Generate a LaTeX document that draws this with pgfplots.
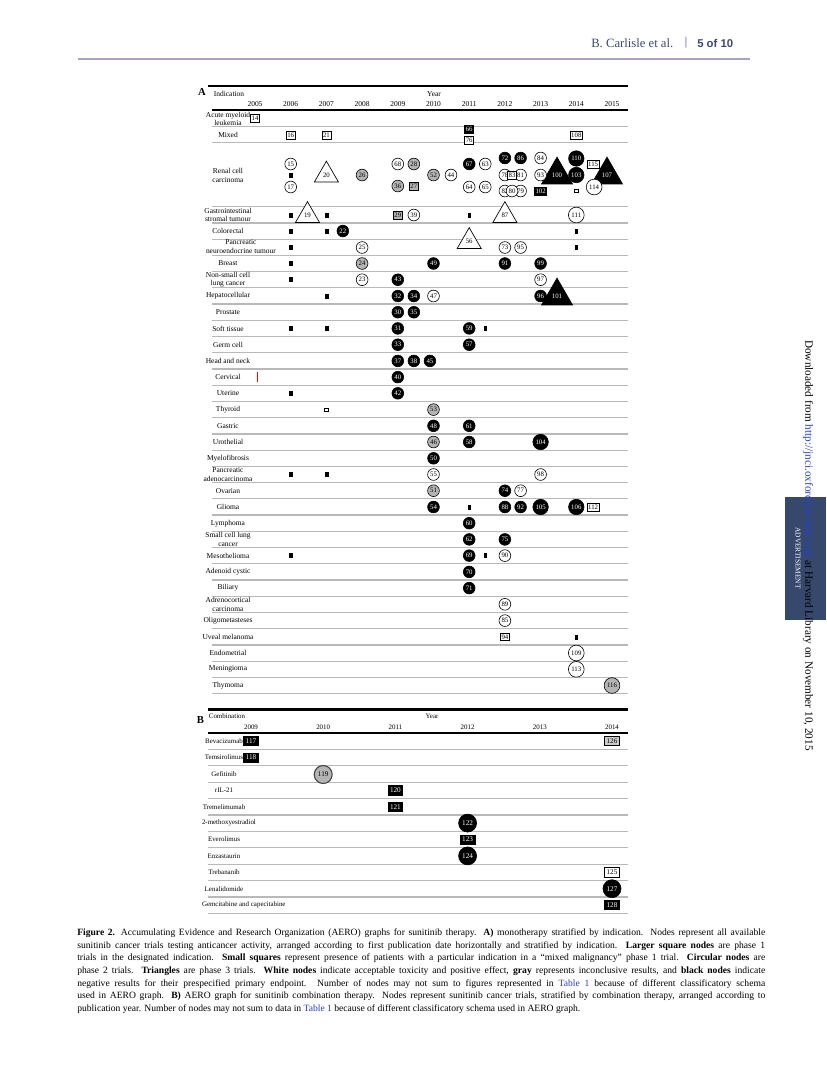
\documentclass[border=0pt]{standalone}
\usepackage{fontspec}
\setmainfont{Liberation Serif}
\newfontfamily\hdrsans{Liberation Sans}
\usepackage{pgfplots}
\pgfplotsset{compat=1.18}

\definecolor{sepgray}{HTML}{B9B9B9}
\definecolor{nodegray}{HTML}{B4B4B4}
\definecolor{hdrblue}{HTML}{3B4A72}
\definecolor{hdrrule}{HTML}{A2A6C4}
\definecolor{linkblue}{HTML}{2440D0}
\definecolor{adbox}{HTML}{36496C}

\newcommand\nf{\fontsize{5.1}{5.5}\selectfont}
\newcommand\nfb{\fontsize{5.4}{6}\selectfont}

\pgfplotsset{
  lab/.style 2 args={nodes near coords, point meta=explicit symbolic,
    every node near coord/.append style={anchor=center, inner sep=0pt, font=#2, text=#1}},
  circ/.style n args={4}{only marks, mark=*, mark size=#2,
    mark options={draw=black, fill=#1, line width=0.45pt}, lab={#3}{#4}},
  tri/.style n args={3}{only marks, mark=triangle*, mark size=#2,
    mark options={draw=black, fill=#1, line width=0.5pt}, lab={#3}{\nf}},
  bx/.style n args={4}{draw=none, nodes near coords, point meta=explicit symbolic,
    every node near coord/.append style={anchor=center, rectangle, draw=black,
      fill=#1, text=#2, line width=0.45pt, inner xsep=0.8pt, inner ysep=0pt,
      minimum height=#3, font=#4}},
  sq/.style={only marks, mark=square*, mark size=1.5pt,
    mark options={fill=black, draw=none, xscale=0.7}},
  hsq/.style={only marks, mark=square, mark size=1.3pt,
    mark options={draw=black, line width=0.5pt}},
  panel/.style={scale only axis, clip=false, y dir=reverse,
    axis line style={draw=none}, major tick length=0pt, minor tick length=0pt,
    yminorgrids=true, minor grid style={draw=sepgray, line width=0.9pt},
    xticklabel pos=right,
    xticklabel style={anchor=south, inner sep=0pt, yshift=2.3pt},
    yticklabel style={anchor=center, xshift=12pt, align=center, inner sep=0pt}},
}

\begin{document}
\begin{tikzpicture}
\fill[white] (0,0) rectangle (619.5pt,-814.5pt);

% ---------------- panel A: monotherapy by indication
\begin{axis}[panel,
  at={(315pt,-303.75pt)}, anchor=center,
  width=312pt, height=442.5pt,
  xmin=2003.7955, xmax=2015.4482, ymin=110, ymax=700,
  xtick={2005,2006,...,2015},
  xticklabels={2005,2006,2007,2008,2009,2010,2011,2012,2013,2014,2015},
  xticklabel style={font=\fontsize{5.6}{6}\selectfont},
  yticklabel style={font=\fontsize{5.6}{6.4}\selectfont},
  ytick={119,135,175.4,214.8,231.0,247.3,263.5,279.7,296.0,312.2,328.4,344.7,360.9,
    377.1,393.3,409.6,425.8,442.0,458.3,474.5,490.7,507.0,523.2,539.4,555.6,571.9,
    588.1,604.3,620.6,636.8,653.0,669.3,685.5},
  yticklabels={{Acute myeloid\\leukemia},Mixed,{Renal cell\\carcinoma},
    {Gastrointestinal\\stromal tumour},Colorectal,
    {\makebox[33pt][l]{\begin{tabular}{@{}c@{}}Pancreatic\\neuroendocrine tumour\end{tabular}}},
    Breast,{Non-small cell\\lung cancer},Hepatocellular,Prostate,Soft tissue,Germ cell,
    Head and neck,Cervical,Uterine,Thyroid,Gastric,Urothelial,Myelofibrosis,
    {Pancreatic\\adenocarcinoma},Ovarian,Glioma,Lymphoma,{Small cell lung\\cancer},
    Mesothelioma,Adenoid cystic,Biliary,{Adrenocortical\\carcinoma},Oligometasteses,
    Uveal melanoma,Endometrial,Meningioma,Thymoma},
  minor ytick={126.7,142.7,206.7,222.93,239.16,255.39,271.62,287.85,304.08,320.31,
    336.54,352.77,369.0,385.23,401.46,417.69,433.92,450.15,466.38,482.61,498.84,
    515.07,531.3,547.53,563.76,579.99,596.22,612.45,628.68,644.91,661.14,677.37,693.6},
]
% small squares (mixed malignancy phase 1)
\addplot[sq] table {
x y
2006 175
2006 214.8
2007 214.8
2011 214.8
2006 231.0
2007 231.0
2014 231.0
2006 247.3
2014 247.3
2006 263.5
2006 279.7
2007 296.0
2006 328.4
2007 328.4
2011.45 328.4
2006 393.3
2006 474.5
2007 474.5
2011 507.0
2006 555.6
2011.45 555.6
2014 636.8
};
\addplot[hsq] table {
x y
2014 191
2007 409.6
};
\addplot[red, only marks, mark=|, mark size=3.8pt, mark options={draw=red, line width=0.6pt}]
  coordinates {(2005.08,377.1)};
% triangles
\addplot[tri={white}{10.4pt}{black}] table[meta=l] {
x y l
2007 175 20
2006.47 215.5 19
2012 215.5 87
2011 241.5 56
};
\addplot[tri={black}{13.4pt}{white}] table[meta=l] {
x y l
2013.46 175 100
2014.86 175 107
2013.46 296 101
};
% circles
\addplot[circ={white}{4.4pt}{black}{\nf}] table[meta=l] {
x y l
2006 164 15
2006 187 17
2008 247.5 25
2008 279.7 23
2009 164 68
2009.45 215 39
2010.49 175 44
2010 296 47
2010 474.5 55
2011.45 164 63
2011 187 64
2011.45 187 65
2012 175 78
2012.44 175 81
2012 191 82
2012.44 191 79
2012.2 191 80
2012 247.5 73
2012.44 247.5 95
2012.44 490.7 77
2012 555.6 90
2012 604.3 89
2012 620.6 85
2013 158 84
2013 175 93
2013 279.7 97
2013 474.5 98
};
\addplot[circ={nodegray}{4.4pt}{black}{\nf}] table[meta=l] {
x y l
2008 175 26
2009.45 164 28
2009 186 36
2010 175 52
2008 263.5 24
2010 409.6 53
2010 442.0 46
2010 490.7 51
};
\addplot[circ={black}{4.4pt}{white}{\nf}] table[meta=l] {
x y l
2011 164 67
2012 158 72
2012.44 158 86
2007.46 231.0 22
2010 263.5 49
2012 263.5 91
2013 263.5 99
2009 279.7 43
2009 296.0 32
2009.45 296.0 34
2013 296.0 96
2009 312.2 30
2009.45 312.2 35
2009 328.4 31
2011 328.4 59
2009 344.7 33
2011 344.7 57
2009 360.9 37
2009.45 360.9 38
2009.9 360.9 45
2009 377.1 40
2009 393.3 42
2010 425.8 48
2011 425.8 61
2011 442.0 58
2010 458.3 50
2012 490.7 74
2010 507.0 54
2012 507.0 88
2012.44 507.0 92
2011 523.2 60
2011 539.4 62
2012 539.4 75
2011 555.6 69
2011 571.9 70
2011 588.1 71
};
\addplot[circ={black}{5.8pt}{white}{\nf}] table[meta=l] {
x y l
2014 158.5 110
2014 175 103
2013 442.0 104
2013 507.0 105
2014 507.0 106
};
\addplot[circ={white}{5.9pt}{black}{\nf}] table[meta=l] {
x y l
2014.5 187 114
2014 215 111
2014 653.0 109
2014 669.3 113
};
\addplot[circ={nodegray}{5.9pt}{black}{\nf}] table[meta=l] {
x y l
2015 685.5 116
};
% boxes (phase 1)
\addplot[bx={white}{black}{5.8pt}{\nf}] table[meta=l] {
x y l
2005 118.3 14
2006 135 16
2007 135 21
2011 140 76
2014 135 108
2012.2 175 83
2014.47 164 115
2014.47 507.0 112
2012 636.8 94
};
\addplot[bx={black}{white}{5.8pt}{\nf}] table[meta=l] {
x y l
2011 129.5 66
2013 191 102
};
\addplot[bx={nodegray}{black}{5.8pt}{\nf}] table[meta=l] {
x y l
2009.45 186 27
2009 215 29
};
\end{axis}

% ---------------- panel B: combinations
\begin{axis}[panel,
  at={(313.5pt,-618pt)}, anchor=center,
  width=315pt, height=136.5pt,
  xmin=2008.4044, xmax=2014.2216, ymin=733, ymax=915,
  xtick={2009,2010,...,2014},
  xticklabels={2009,2010,2011,2012,2013,2014},
  xticklabel style={font=\fontsize{5.2}{6}\selectfont},
  yticklabel style={font=\fontsize{5.2}{6}\selectfont},
  ytick={741.1,757.5,773.9,790.3,806.7,823.1,839.5,855.9,872.3,888.7,905.1},
  yticklabels={Bevacizumab,Temsirolimus,Gefitinib,rIL-21,Tremelimumab,
    \makebox[33pt][l]{2-methoxyestradiol},Everolimus,Enzastaurin,Trebananib,
    Lenalidomide,\makebox[33pt][l]{Gemcitabine and capecitabine}},
  minor ytick={749.3,765.7,782.1,798.5,814.9,831.3,847.7,864.1,880.5,896.9,913.3},
]
\addplot[bx={black}{white}{7pt}{\nfb}, every node near coord/.append style={minimum width=11pt}]
  table[meta=l] {
x y l
2009 741.1 117
2009 757.5 118
2011 790.3 120
2011 806.7 121
2012 839.5 123
2014 905.1 128
};
\addplot[bx={nodegray!70}{black}{7pt}{\nfb}, every node near coord/.append style={minimum width=11pt, line width=0.8pt}]
  table[meta=l] {
x y l
2014 741.1 126
};
\addplot[bx={white}{black}{7pt}{\nfb}, every node near coord/.append style={minimum width=11pt, line width=0.7pt}]
  table[meta=l] {
x y l
2014 872.3 125
};
\addplot[only marks, mark=*, mark size=6.75pt,
  mark options={draw=black!75, fill=nodegray, line width=0.8pt}, lab={black}{\nfb}]
  table[meta=l] {
x y l
2010 774.5 119
};
\addplot[circ={black}{6.75pt}{white}{\nfb}] table[meta=l] {
x y l
2012 823.1 122
2012 855.9 124
2014 888.7 127
};
\end{axis}

% ---------------- page furniture (pixel units)
\begin{scope}[x=0.75pt,y=-0.75pt]
\node[anchor=west, text=hdrblue, font=\fontsize{9.5}{10}\selectfont, inner sep=0pt] at (591,43) {B. Carlisle et al.};
\node[text=hdrblue, font=\fontsize{9}{10}\selectfont, inner sep=0pt] at (686,43) {|};
\node[anchor=west, text=hdrblue, font=\hdrsans\bfseries\fontsize{8.5}{10}\selectfont, inner sep=0pt] at (697,43) {5 of 10};
\draw[hdrrule, line width=2.2pt] (78,59) -- (750,59);

\draw[line width=1.9pt] (208,86) -- (628,86);
\draw[line width=1.4pt] (212,110) -- (628,110);
\draw[line width=1.9pt] (208,709.3) -- (628,709.3);
\draw[line width=1.4pt] (208,733) -- (628,733);

\node[font=\bfseries\fontsize{8}{8}\selectfont, inner sep=0pt] at (202,92) {A};
\node[font=\fontsize{5.6}{6}\selectfont, inner sep=0pt] at (229,94) {Indication};
\node[font=\fontsize{5.6}{6}\selectfont, inner sep=0pt] at (434,94) {Year};
\node[font=\bfseries\fontsize{8}{8}\selectfont, inner sep=0pt] at (200.5,720) {B};
\node[font=\fontsize{5.2}{6}\selectfont, inner sep=0pt] at (227,716) {Combination};
\node[font=\fontsize{5.2}{6}\selectfont, inner sep=0pt] at (432,716) {Year};

\fill[adbox] (785,496.5) rectangle (826,620);
\node[rotate=-90, text=white, font=\fontsize{5.5}{6}\selectfont, inner sep=0pt] at (798,558) {ADVERTISEMENT};
\node[rotate=-90, anchor=west, inner sep=0pt, font=\fontsize{8.4}{9}\selectfont] at (808,340)
  {Downloaded from \textcolor{linkblue}{http://jnci.oxfordjournals.org/} at Harvard Library on November 10, 2015};

\begin{scope}[every node/.style={anchor=base west, inner sep=0pt, font=\fontsize{7.2}{8}\selectfont}]
\node at (77,935.5) {\makebox[516pt][s]{\textbf{Figure 2.}\hspace{0.6em}Accumulating Evidence and Research Organization (AERO) graphs for sunitinib therapy. \textbf{A)} monotherapy stratified by indication. Nodes represent all available}};
\node at (77,948.2) {\makebox[516pt][s]{sunitinib cancer trials testing anticancer activity, arranged according to first publication date horizontally and stratified by indication. \textbf{Larger square nodes} are phase 1}};
\node at (77,960.8) {\makebox[516pt][s]{trials in the designated indication. \textbf{Small squares} represent presence of patients with a particular indication in a “mixed malignancy” phase 1 trial. \textbf{Circular nodes} are}};
\node at (77,973.5) {\makebox[516pt][s]{phase 2 trials. \textbf{Triangles} are phase 3 trials. \textbf{White nodes} indicate acceptable toxicity and positive effect, \textbf{gray} represents inconclusive results, and \textbf{black nodes} indicate}};
\node at (77,986.2) {\makebox[516pt][s]{negative results for their prespecified primary endpoint. Number of nodes may not sum to figures represented in \textcolor{linkblue}{Table 1} because of different classificatory schema}};
\node at (77,998.9) {\makebox[516pt][s]{used in AERO graph. \textbf{B)} AERO graph for sunitinib combination therapy. Nodes represent sunitinib cancer trials, stratified by combination therapy, arranged according to}};
\node at (77,1011.5) {publication year. Number of nodes may not sum to data in \textcolor{linkblue}{Table 1} because of different classificatory schema used in AERO graph.};
\end{scope}
\end{scope}
\end{tikzpicture}
\end{document}
